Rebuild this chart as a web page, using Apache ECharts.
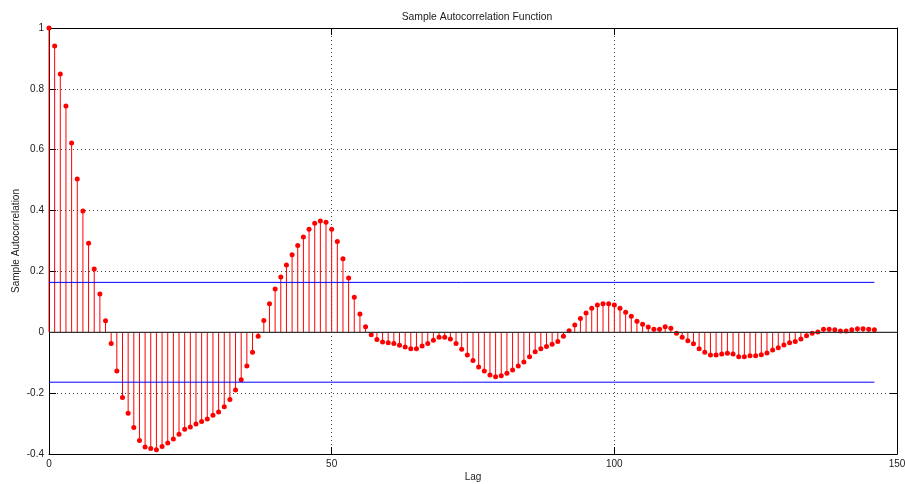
<!DOCTYPE html>
<html>
<head>
<meta charset="utf-8">
<script src="https://cdn.jsdelivr.net/npm/echarts@6/dist/echarts.min.js"></script>
<style>
  html, body { margin: 0; padding: 0; background: #fff; }
  #chart { width: 905px; height: 484px; }
</style>
</head>
<body>
<div id="chart"></div>
<script>
// Sample autocorrelation, lags 0..146
const lags = [];
for (let i = 0; i <= 146; i++) lags.push(i);

const acf = [
  1.000, 0.941, 0.849, 0.744, 0.622, 0.504, 0.399, 0.293, 0.208, 0.126,
  0.038, -0.037, -0.127, -0.214, -0.266, -0.313, -0.356, -0.377, -0.382, -0.386,
  -0.375, -0.364, -0.351, -0.335, -0.319, -0.311, -0.301, -0.293, -0.285, -0.273,
  -0.262, -0.245, -0.221, -0.190, -0.156, -0.111, -0.066, -0.013, 0.039, 0.094,
  0.142, 0.182, 0.221, 0.255, 0.285, 0.313, 0.339, 0.358, 0.366, 0.362,
  0.339, 0.298, 0.242, 0.178, 0.115, 0.060, 0.018, -0.008, -0.024, -0.032,
  -0.034, -0.037, -0.043, -0.048, -0.054, -0.054, -0.045, -0.037, -0.026, -0.016,
  -0.016, -0.022, -0.037, -0.056, -0.075, -0.093, -0.114, -0.127, -0.140, -0.146,
  -0.143, -0.135, -0.124, -0.111, -0.098, -0.080, -0.064, -0.054, -0.047, -0.039,
  -0.030, -0.013, 0.005, 0.024, 0.045, 0.063, 0.079, 0.090, 0.094, 0.094,
  0.090, 0.079, 0.066, 0.053, 0.036, 0.026, 0.017, 0.010, 0.010, 0.018,
  0.013, -0.003, -0.016, -0.028, -0.038, -0.054, -0.066, -0.075, -0.075, -0.071,
  -0.069, -0.071, -0.080, -0.080, -0.077, -0.077, -0.074, -0.068, -0.058, -0.051,
  -0.042, -0.034, -0.030, -0.022, -0.011, -0.003, 0.001, 0.010, 0.010, 0.008,
  0.004, 0.004, 0.008, 0.012, 0.012, 0.010, 0.008
];

// Approximate confidence bounds
const bound = 0.164;
const boundEndLag = 146;

const xTicks = { min: 0, max: 150, interval: 50 };
const yTicks = { min: -0.4, max: 1, interval: 0.2 };

const points = lags.map((l, i) => [l, acf[i]]);

const font = 'Liberation Sans, Arial, sans-serif';
const textColor = '#1a1a1a';

const chart = echarts.init(document.getElementById('chart'), null, { renderer: 'canvas' });

const tickStyle = { show: true, inside: true, length: 7, lineStyle: { color: '#000', width: 1 } };
const lineStyle = { show: true, onZero: false, lineStyle: { color: '#000', width: 1 } };
const gridLine = { show: true, lineStyle: { color: '#444', width: 1, type: [1, 3] } };

chart.setOption({
  animation: false,
  backgroundColor: '#fff',
  title: {
    text: 'Sample Autocorrelation Function',
    left: 472,
    top: 7,
    textAlign: 'center',
    textStyle: { fontFamily: font, fontSize: 10.4, fontWeight: 'normal', color: textColor }
  },
  grid: {
    left: 49, right: 8, top: 28, bottom: 30,
    containLabel: false, outerBoundsMode: 'none'
  },
  xAxis: [
    {
      type: 'value', position: 'bottom',
      min: xTicks.min, max: xTicks.max, interval: xTicks.interval,
      axisLine: lineStyle, axisTick: tickStyle, splitLine: gridLine,
      axisLabel: { fontFamily: font, fontSize: 10, color: textColor, margin: 5 },
      name: 'Lag', nameLocation: 'middle', nameGap: 18, nameMoveOverlap: false,
      nameTextStyle: { fontFamily: font, fontSize: 10, color: textColor }
    },
    {
      type: 'value', position: 'top',
      min: xTicks.min, max: xTicks.max, interval: xTicks.interval,
      axisLine: lineStyle, axisTick: tickStyle, splitLine: { show: false },
      axisLabel: { show: false }
    }
  ],
  yAxis: [
    {
      type: 'value', position: 'left',
      min: yTicks.min, max: yTicks.max, interval: yTicks.interval,
      axisLine: lineStyle, axisTick: tickStyle, splitLine: gridLine,
      axisLabel: { fontFamily: font, fontSize: 10, color: textColor, margin: 5 },
      name: 'Sample Autocorrelation', nameLocation: 'middle', nameGap: 28, nameMoveOverlap: false,
      nameTextStyle: { fontFamily: font, fontSize: 10, color: textColor }
    },
    {
      type: 'value', position: 'right',
      min: yTicks.min, max: yTicks.max, interval: yTicks.interval,
      axisLine: lineStyle, axisTick: tickStyle, splitLine: { show: false },
      axisLabel: { show: false }
    }
  ],
  series: [
    {
      // vertical stems from zero to each value
      type: 'custom',
      xAxisIndex: 0, yAxisIndex: 0,
      data: points,
      silent: true,
      renderItem: function (params, api) {
        const x = api.value(0), y = api.value(1);
        const p0 = api.coord([x, 0]);
        const p1 = api.coord([x, y]);
        return {
          type: 'line',
          shape: { x1: p0[0], y1: p0[1], x2: p1[0], y2: p1[1] },
          style: { stroke: '#ff0000', lineWidth: 1 }
        };
      }
    },
    {
      // zero baseline
      type: 'line', xAxisIndex: 0, yAxisIndex: 0,
      data: [[xTicks.min, 0], [xTicks.max, 0]],
      symbol: 'none', silent: true,
      lineStyle: { color: '#333', width: 1.2 }
    },
    {
      type: 'line', xAxisIndex: 0, yAxisIndex: 0,
      data: [[0, bound], [boundEndLag, bound]],
      symbol: 'none', silent: true,
      lineStyle: { color: '#0000ff', width: 1 }
    },
    {
      type: 'line', xAxisIndex: 0, yAxisIndex: 0,
      data: [[0, -bound], [boundEndLag, -bound]],
      symbol: 'none', silent: true,
      lineStyle: { color: '#0000ff', width: 1 }
    },
    {
      // stem markers
      type: 'scatter', xAxisIndex: 0, yAxisIndex: 0,
      data: points,
      symbol: 'circle', symbolSize: 5, silent: true,
      itemStyle: { color: '#ff0000', opacity: 1 }
    }
  ]
});
</script>
</body>
</html>
